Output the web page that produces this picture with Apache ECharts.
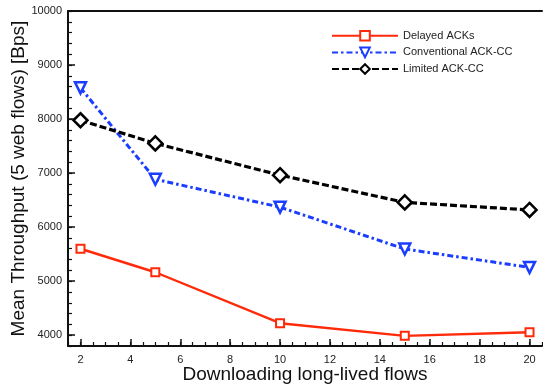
<!DOCTYPE html>
<html><head><meta charset="utf-8">
<script src="https://cdn.jsdelivr.net/npm/echarts@6/dist/echarts.min.js"></script>
<style>html,body{margin:0;padding:0;background:#fff}#c{width:543px;height:387px}</style>
</head><body><div id="c"></div>
<script>
const xValues = [2, 5, 10, 15, 20];
const delayedAcks = [5600, 5165, 4222, 3988, 4055];
const conventionalAckCC = [8578, 6885, 6370, 5595, 5255];
const limitedAckCC = [7978, 7550, 6962, 6458, 6318];
const seriesNames = ['Delayed ACKs', 'Conventional ACK-CC', 'Limited ACK-CC'];
const xTickLabels = [2, 4, 6, 8, 10, 12, 14, 16, 18, 20];
const yTickLabels = [4000, 5000, 6000, 7000, 8000, 9000, 10000];

const pairs = arr => xValues.map((x, i) => [x, arr[i]]);
const font = 'Liberation Sans, Arial, Helvetica, sans-serif';
const chart = echarts.init(document.getElementById('c'), null, {renderer: 'canvas'});
chart.setOption({
  animation: false,
  backgroundColor: '#fff',
  grid: {left: 68, top: 11, right: 1, bottom: 41, containLabel: false, outerBoundsMode: 'none'},
  legend: {
    orient: 'vertical', left: 331, top: 30, itemGap: 5, padding: 0,
    itemWidth: 66, itemHeight: 12,
    textStyle: {fontFamily: font, fontSize: 11, color: '#222'},
    data: seriesNames
  },
  xAxis: [
    {type: 'value', min: 1.5, max: 20.5, position: 'bottom',
     name: 'Downloading long-lived flows', nameLocation: 'middle', nameGap: 19, nameMoveOverlap: false,
     nameTextStyle: {fontFamily: font, fontSize: 19, color: '#111'},
     axisLine: {show: true, lineStyle: {color: '#111', width: 2}},
     axisTick: {show: true, inside: true, length: 7, customValues: xTickLabels, lineStyle: {color: '#111', width: 1.5}},
     axisLabel: {show: true, customValues: xTickLabels, margin: 8, fontFamily: font, fontSize: 11, color: '#222', formatter: v => String(v)},
     splitLine: {show: false}},
    {type: 'value', min: 1.5, max: 20.5, interval: 0.5, position: 'bottom',
     axisLine: {show: false},
     axisTick: {show: true, inside: true, length: 4, lineStyle: {color: '#111', width: 1.2}},
     axisLabel: {show: false}, splitLine: {show: false}},
    {type: 'value', min: 1.5, max: 20.5, position: 'top',
     axisLine: {show: true, lineStyle: {color: '#111', width: 2}},
     axisTick: {show: false}, axisLabel: {show: false}, splitLine: {show: false}}
  ],
  yAxis: [
    {type: 'value', min: 3800, max: 10000, position: 'left',
     name: 'Mean Throughput (5 web flows) [Bps]', nameLocation: 'middle', nameGap: 40, nameMoveOverlap: false,
     nameTextStyle: {fontFamily: font, fontSize: 19, color: '#111'},
     axisLine: {show: true, lineStyle: {color: '#111', width: 2}},
     axisTick: {show: true, inside: true, length: 7, customValues: yTickLabels, lineStyle: {color: '#111', width: 1.5}},
     axisLabel: {show: true, customValues: yTickLabels, margin: 6, fontFamily: font, fontSize: 11, color: '#222', formatter: v => String(v)},
     splitLine: {show: false}},
    {type: 'value', min: 3800, max: 10000, interval: 200, position: 'left',
     axisLine: {show: false},
     axisTick: {show: true, inside: true, length: 4, lineStyle: {color: '#111', width: 1.2}},
     axisLabel: {show: false}, splitLine: {show: false}}
  ],
  series: [
    {name: seriesNames[0], type: 'line', data: pairs(delayedAcks),
     symbol: 'rect', symbolSize: 8, color: '#ff2a0a',
     lineStyle: {color: '#ff2a0a', width: 2.4, type: 'solid'},
     itemStyle: {color: '#fff', borderColor: '#ff2a0a', borderWidth: 2}, z: 3},
    {name: seriesNames[1], type: 'line', data: pairs(conventionalAckCC),
     symbol: 'triangle', symbolRotate: 180, symbolSize: 11, color: '#1a3dff',
     lineStyle: {color: '#1a3dff', width: 3, type: [6, 3, 2.5, 3]},
     itemStyle: {color: '#fff', borderColor: '#1a3dff', borderWidth: 2.5}, z: 4},
    {name: seriesNames[2], type: 'line', data: pairs(limitedAckCC),
     symbol: 'diamond', symbolSize: 14, color: '#000',
     lineStyle: {color: '#000', width: 3.2, type: [7, 3]},
     itemStyle: {color: '#fff', borderColor: '#000', borderWidth: 2.5}, z: 5}
  ]
});
</script></body></html>
